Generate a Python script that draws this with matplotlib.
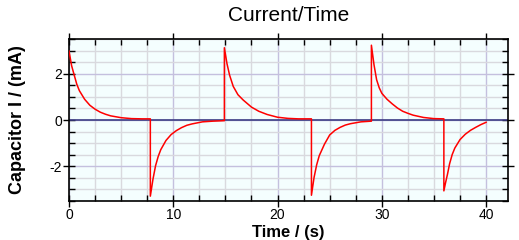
import matplotlib
matplotlib.use("Agg")
import matplotlib.pyplot as plt
from matplotlib.ticker import MultipleLocator

plt.rcParams['font.family'] = ['Liberation Sans', 'DejaVu Sans']
plt.rcParams['axes.unicode_minus'] = False

# time (s) and capacitor current (mA)
time_s = [0.0, 0.25, 0.5, 0.75, 1.0, 1.5, 2.0, 2.5, 3.0, 3.5, 4.0, 5.0, 6.0, 7.0, 7.8,
          7.8, 8.05, 8.3, 8.55, 8.8, 9.3, 9.8, 10.3, 10.8, 11.3, 11.8, 12.8, 13.8, 14.9,
          14.9, 15.15, 15.4, 15.75, 16.2, 16.7, 17.5, 18.2, 19.0, 20.0, 21.0, 22.0, 23.25,
          23.25, 23.5, 23.75, 24.0, 24.5, 25.0, 25.5, 26.0, 26.5, 27.0, 27.5, 28.0, 29.0,
          29.0, 29.25, 29.5, 29.75, 30.0, 30.5, 31.0, 31.5, 32.0, 32.5, 33.0, 34.0, 35.0, 35.95,
          35.95, 36.1, 36.3, 36.5, 36.75, 37.0, 37.5, 38.0, 38.5, 39.0, 39.5, 40.0]
current_ma = [3.00, 2.36, 1.95, 1.55, 1.27, 0.90, 0.64, 0.47, 0.34, 0.25, 0.18, 0.10, 0.06, 0.05, 0.05,
              -3.31, -2.58, -1.99, -1.59, -1.29, -0.89, -0.63, -0.46, -0.33, -0.23, -0.17, -0.08, -0.05, -0.03,
              3.14, 2.45, 1.95, 1.46, 1.10, 0.87, 0.56, 0.38, 0.24, 0.12, 0.07, 0.05, 0.05,
              -3.27, -2.50, -1.95, -1.55, -1.05, -0.65, -0.45, -0.32, -0.22, -0.16, -0.12, -0.08, -0.05,
              3.25, 2.40, 1.75, 1.40, 1.16, 0.90, 0.70, 0.52, 0.38, 0.29, 0.21, 0.11, 0.06, 0.05,
              -3.08, -2.75, -2.35, -1.90, -1.50, -1.22, -0.85, -0.62, -0.45, -0.32, -0.20, -0.10]

fig = plt.figure(figsize=(5.19, 2.40), dpi=100)
ax = fig.add_axes([69 / 519, 39 / 240, 439 / 519, 162 / 240])
ax.set_facecolor('#F4FEFE')

ax.set_xlim(0, 42.1)
ax.set_ylim(-3.52, 3.52)
ax.xaxis.set_major_locator(MultipleLocator(10))
ax.xaxis.set_minor_locator(MultipleLocator(2.5))
ax.yaxis.set_major_locator(MultipleLocator(2))
ax.yaxis.set_minor_locator(MultipleLocator(0.5))

ax.grid(which='minor', color='#D9D9DE', lw=1.0)
ax.grid(which='major', color='#C4C0DE', lw=1.0)
ax.set_axisbelow(True)

ax.axhline(0, color='#3C3C84', lw=1.2, zorder=2)
ax.plot(time_s, current_ma, color='#FF0000', lw=1.1, zorder=3)

ax.tick_params(which='major', direction='inout', length=8, width=1,
               top=True, right=True, labelsize=10, colors='black', pad=1)
ax.tick_params(which='minor', direction='in', length=4, width=1,
               top=True, right=True)
for s in ax.spines.values():
    s.set_linewidth(1.2)

ax.set_title('Current/Time', fontsize=15, pad=13)
ax.set_xlabel('Time / (s)', fontsize=12, fontweight='bold', labelpad=2)
ax.set_ylabel('Capacitor I / (mA)', fontsize=13, fontweight='bold', labelpad=17)

fig.savefig('out.png', dpi=100)
